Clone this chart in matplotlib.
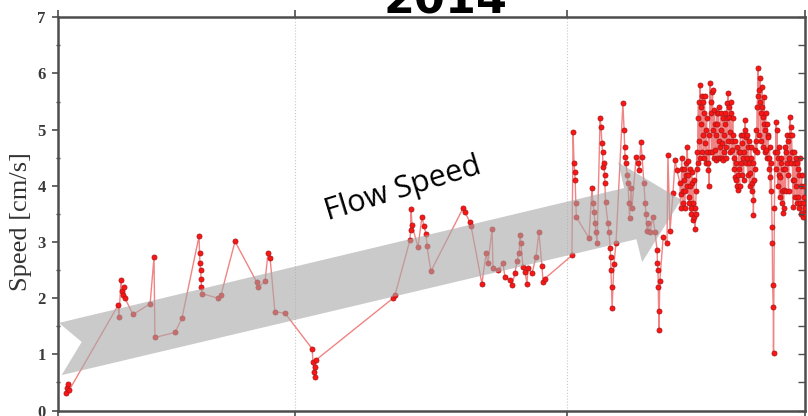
import numpy as np
import matplotlib
matplotlib.use("Agg")
import matplotlib.pyplot as plt
from matplotlib.patches import Polygon
from matplotlib.ticker import MultipleLocator

# ---- data: day of record vs. flow speed [cm/s] ----
early_days = [
    2.7, 3.0, 3.3, 3.7,
    20.0, 20.3, 21.0, 21.3, 21.7, 22.0, 22.3, 25.0, 30.7, 32.0, 32.3, 39.0, 41.3,
    47.0, 47.2, 47.3, 47.5, 47.7, 47.8, 48.0, 53.3, 54.3, 59.0, 66.3, 66.7, 69.0,
    70.0, 70.7, 72.3, 75.7, 84.7, 85.0, 85.3, 85.7, 85.8, 86.0,
    111.7, 112.3, 117.3, 117.5, 117.7, 118.0, 120.0, 121.3, 122.0, 122.7, 123.0,
    124.3, 135.0, 135.7, 137.3, 137.7, 141.3, 142.7, 143.3, 144.7, 145.0, 146.7,
    148.3, 149.0, 150.7, 151.3, 152.3, 153.0, 153.7, 154.0, 154.3, 155.0, 155.7,
    156.3, 156.7, 158.0, 159.3, 160.3, 161.3, 161.7, 162.3,
    171.3, 171.7, 172.0, 172.2, 172.4, 172.6, 172.8, 177.0, 178.0, 178.3, 178.7,
    179.0, 179.3, 179.7, 180.7, 181.0, 181.3, 181.5, 181.7, 182.0, 182.2, 182.3,
    182.5, 183.3, 183.7, 184.0, 184.2, 184.3, 184.5, 184.7, 185.3, 186.0, 188.3,
    188.7, 188.9, 189.0, 189.3, 189.7, 190.0, 190.3, 190.5, 191.0, 191.3, 192.7,
    193.3, 193.7, 194.3, 194.7, 195.3, 195.7, 196.0, 196.3, 196.7, 197.3, 198.3,
    199.0, 199.7, 199.8, 200.0, 200.1, 200.2, 200.3, 200.6, 201.7, 203.0, 203.3,
    204.0, 205.0, 205.7, 206.3,
]
early_speed = [
    0.32, 0.40, 0.47, 0.36,
    1.87, 1.66, 2.32, 2.12, 2.05, 2.20, 2.00, 1.71, 1.90, 2.73, 1.30, 1.39, 1.64,
    3.10, 2.80, 2.62, 2.50, 2.35, 2.20, 2.08, 2.00, 2.05, 3.01, 2.28, 2.19, 2.30,
    2.80, 2.71, 1.76, 1.73, 1.10, 0.86, 0.68, 0.77, 0.59, 0.90,
    2.00, 2.05, 3.03, 3.21, 3.58, 3.30, 2.91, 3.44, 3.28, 3.14, 2.92,
    2.48, 3.60, 3.53, 3.35, 3.28, 2.26, 2.80, 2.62, 3.23, 2.53, 2.50,
    2.62, 2.37, 2.32, 2.23, 2.44, 2.67, 2.80, 3.12, 2.98, 2.55, 2.46,
    2.26, 2.53, 2.44, 2.73, 3.17, 2.58, 2.28, 2.35,
    2.76, 4.96, 4.40, 4.24, 4.10, 3.69, 3.44, 3.07, 3.97, 3.69, 3.53,
    3.33, 3.17, 2.98, 5.20, 5.04, 4.76, 4.60, 4.33, 4.40, 4.20, 4.05,
    3.71, 3.33, 3.17, 2.90, 2.73, 2.50, 2.20, 1.82, 2.60, 2.98, 5.47,
    4.99, 4.69, 4.51, 4.40, 4.20, 4.05, 3.69, 3.42, 3.97, 3.60, 4.51,
    4.40, 4.28, 4.78, 4.51, 4.05, 3.69, 3.50, 3.20, 3.33, 3.17, 3.45,
    3.17, 2.85, 2.62, 2.50, 2.19, 1.78, 1.44, 2.30, 3.08, 2.98, 4.55,
    3.20, 3.87, 4.46, 4.28,
]
late_days = [
    207.3, 207.7, 208.0, 208.3, 208.7, 209.0, 209.3, 209.7, 210.0, 210.3, 210.7,
    211.0, 211.3, 211.7, 212.0, 212.3, 212.7, 213.0, 213.3, 213.7, 214.0, 214.3,
    214.7, 215.0, 215.3, 215.7, 216.0, 216.3, 216.7, 217.0, 217.3, 217.7, 218.0,
    218.3, 218.7, 219.0, 219.3, 219.7, 220.0, 220.3, 220.7, 221.0, 221.3, 221.7,
    222.0, 222.3, 222.7, 223.0, 223.3, 223.7, 224.0, 224.3, 224.7, 225.0, 225.3,
    225.7, 226.0, 226.3, 226.7, 227.0, 227.3, 227.7, 228.0, 228.3, 228.7, 229.0,
    229.3, 229.7, 230.0, 230.3, 230.7, 231.0, 231.3, 231.7, 231.8, 232.0, 232.3,
    232.7, 233.0, 233.3, 233.7, 234.0, 234.3, 234.7, 235.0, 235.3, 235.7, 236.0,
    236.3, 236.7, 237.0, 237.3, 237.7, 238.0, 238.1, 238.2, 238.4, 238.5, 238.8,
    239.0, 239.3, 239.7, 240.0, 240.3, 240.7, 241.0, 241.3, 241.7, 242.0, 242.3,
    242.7, 243.0, 243.3, 243.7, 244.0, 244.3, 244.7, 245.0, 245.3, 245.7, 246.0,
    246.3, 246.7, 247.0, 247.3, 247.7, 248.0, 248.3, 248.7, 249.0,
]
late_speed = [
    4.05, 3.85, 4.30, 3.70, 4.10, 3.90, 4.40, 4.69, 4.20, 3.80, 4.00,
    3.60, 4.05, 3.70, 3.44, 3.24, 3.90, 4.60, 5.20, 4.80, 5.79, 5.10,
    5.60, 4.90, 5.30, 4.76, 5.00, 4.60, 4.28, 4.00, 5.83, 5.30, 5.67,
    5.00, 5.35, 4.63, 4.46, 5.10, 5.30, 4.80, 4.50, 5.00, 4.76, 4.46,
    4.90, 5.10, 4.70, 5.47, 5.65, 5.22, 4.95, 5.30, 4.63, 4.90, 4.50,
    4.15, 4.40, 4.00, 3.92, 4.30, 4.60, 4.40, 4.76, 4.90, 4.60, 5.17,
    4.87, 4.50, 4.70, 4.40, 4.22, 4.50, 4.05, 3.74, 3.48, 4.10, 4.63,
    5.00, 5.40, 6.10, 5.70, 5.92, 5.30, 5.76, 5.22, 5.58, 4.99, 4.63,
    5.10, 4.87, 4.50, 4.15, 4.40, 3.26, 2.99, 2.23, 1.84, 1.02, 3.60,
    4.60, 5.13, 4.99, 4.50, 4.20, 4.15, 4.40, 3.90, 3.51, 3.92, 4.30,
    4.60, 4.90, 4.20, 4.50, 5.22, 5.04, 4.60, 3.62, 4.10, 4.40, 4.00,
    4.40, 3.80, 4.20, 3.70, 4.00, 3.51, 3.44, 3.80, 3.50,
]
# in-between samples of the dense late record
late_days_mid = [
    207.5, 207.9, 208.2, 208.5, 208.9, 209.2, 209.5, 209.9, 210.2, 210.5, 210.9,
    211.2, 211.5, 211.9, 212.2, 212.5, 212.9, 213.2, 213.5, 213.9, 214.2, 214.5,
    214.9, 215.2, 215.5, 215.9, 216.2, 216.5, 216.9, 217.2, 217.5, 217.9, 218.2,
    218.5, 218.9, 219.2, 219.5, 219.9, 220.2, 220.5, 220.9, 221.2, 221.5, 221.9,
    222.2, 222.5, 222.9, 223.2, 223.5, 223.9, 224.2, 224.5, 224.9, 225.2, 225.5,
    225.9, 226.2, 226.5, 226.9, 227.2, 227.5, 227.9, 228.2, 228.5, 228.9, 229.2,
    229.5, 229.9, 230.2, 230.5, 230.9, 231.2, 231.5, 232.2, 232.5, 232.9, 233.2,
    233.5, 233.9, 234.2, 234.5, 234.9, 235.2, 235.5, 235.9, 236.2, 236.5, 236.9,
    237.2, 237.5, 239.2, 239.5, 239.9, 240.2, 240.5, 240.9, 241.2, 241.5, 241.9,
    242.2, 242.5, 242.9, 243.2, 243.5, 243.9, 244.2, 244.5, 244.9, 245.2, 245.5,
    245.9, 246.2, 246.5, 246.9, 247.2, 247.5, 247.9, 248.2, 248.5, 248.9,
]
late_speed_mid = [
    3.60, 4.50, 3.90, 4.30, 3.60, 4.20, 4.00, 4.45, 3.70, 4.30, 3.50,
    4.25, 3.40, 4.10, 3.60, 3.50, 4.30, 4.40, 5.50, 4.50, 5.40, 4.60,
    5.50, 4.50, 5.60, 4.40, 5.20, 4.40, 4.90, 4.60, 5.50, 4.60, 5.70,
    4.50, 5.10, 4.90, 5.30, 4.50, 5.40, 4.70, 5.30, 4.50, 5.20, 4.60,
    5.30, 4.50, 5.20, 4.80, 5.40, 4.60, 5.50, 4.80, 5.20, 4.30, 4.80,
    4.10, 4.70, 4.20, 4.60, 4.00, 4.90, 4.20, 4.50, 4.10, 5.00, 4.40,
    4.90, 4.20, 4.80, 4.00, 4.70, 3.90, 4.40, 4.30, 4.80, 4.60, 5.60,
    4.90, 5.50, 4.80, 5.40, 4.70, 5.10, 4.60, 5.30, 4.50, 4.90, 4.30,
    4.70, 3.90, 4.30, 4.60, 4.00, 4.70, 3.80, 4.50, 3.70, 4.30, 3.60,
    4.70, 3.90, 4.40, 4.80, 3.90, 4.90, 4.40, 4.90, 4.10, 4.60, 3.80,
    4.50, 3.70, 4.30, 3.60, 4.50, 3.50, 4.20, 3.70, 4.00, 3.60,
]

month_ticks = [0, 79, 169.7, 249]
speed_ticks = [0, 1, 2, 3, 4, 5, 6, 7]
year_label = "2014"
speed_label = "Speed [cm/s]"
trend_label = "Flow Speed"

days = np.array(early_days + late_days + late_days_mid)
speed = np.array(early_speed + late_speed + late_speed_mid)
order = np.argsort(days, kind="stable")
days, speed = days[order], speed[order]

# ---- figure ----
fig = plt.figure(figsize=(8.08, 4.16), dpi=100)
ax = fig.add_axes([0.0718, 0.0132, 0.9245, 0.9452])
ax.set_xlim(month_ticks[0], month_ticks[-1])
ax.set_ylim(0, 7)

# month boundaries
for t in month_ticks[1:-1]:
    ax.axvline(t, color="#c8c8c8", lw=0.8, ls=":", zorder=1)

ax.plot(days, speed, "-", color="#f08484", lw=1.0, zorder=2)
ax.plot(days, speed, "o", ms=3.6, mfc="#ff1414", mec="#b01818", mew=0.6,
        ls="none", zorder=3)

# translucent trend arrow with notched tail
arrow_xy = [(0.3, 1.56), (188.7, 3.96), (186.7, 4.42), (207.7, 3.75),
            (194.7, 2.64), (192.8, 3.05), (1.2, 0.63), (7.9, 1.22)]
ax.add_patch(Polygon(arrow_xy, closed=True, facecolor="#a8a8a8",
                     edgecolor="none", alpha=0.6, zorder=4))
ax.text(115.7, 3.80, trend_label, rotation=17, rotation_mode="anchor",
        ha="center", va="baseline", fontsize=22, family="Open Sans",
        color="black", zorder=5)

# axes styling
spine_c = "#4d4d4d"
for s in ax.spines.values():
    s.set_color(spine_c)
    s.set_linewidth(1.8)

ax.set_xticks(month_ticks)
ax.set_xticklabels([])
ax.tick_params(axis="x", top=True, bottom=True, direction="out", length=5,
               width=1.2, color=spine_c)

ax.set_yticks(speed_ticks)
ax.yaxis.set_minor_locator(MultipleLocator(0.5))
ax.tick_params(axis="y", which="major", direction="out", length=4, width=1.2,
               color=spine_c, labelsize=12, labelcolor="#3a3a3a", pad=5)
ax.tick_params(axis="y", which="minor", direction="inout", length=3,
               width=1.0, color=spine_c)
for lab in ax.get_yticklabels():
    lab.set_fontfamily("Liberation Serif")
    lab.set_fontweight("bold")

axr = ax.twinx()
axr.set_ylim(0, 7)
axr.yaxis.set_major_locator(MultipleLocator(0.5))
axr.tick_params(axis="y", direction="in", length=5, width=1.0, color=spine_c,
                labelright=False)
for s in axr.spines.values():
    s.set_visible(False)

fig.text(21 / 808, 1 - 222 / 416, speed_label, rotation=90, ha="center",
         va="center", fontsize=19, family="Liberation Serif", color="#333333")
fig.text(445 / 808, 1 - 13 / 416, year_label, ha="center", va="baseline",
         fontsize=32, fontweight="bold", family="DejaVu Sans", color="black")

fig.savefig("out.png", dpi=100)
